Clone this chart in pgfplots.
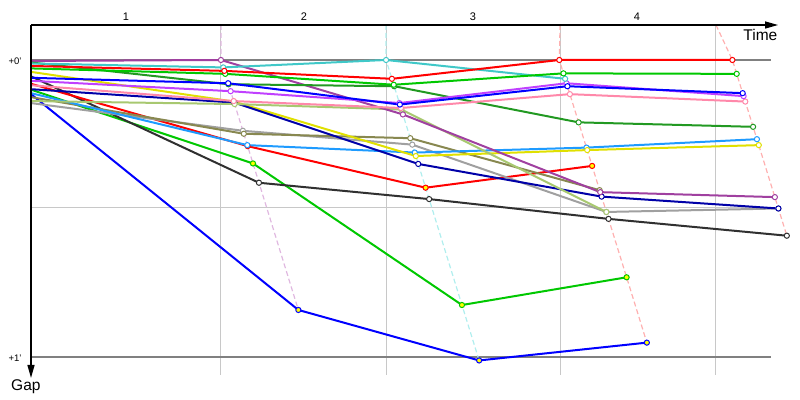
\documentclass[border=0pt]{standalone}
\usepackage{fontspec}
\setmainfont{Liberation Sans}
\usepackage{pgfplots}
\pgfplotsset{compat=1.18}
\usetikzlibrary{arrows.meta}

\definecolor{cPurple}{HTML}{A040A0}
\definecolor{cCyan}{HTML}{40C8C8}
\definecolor{cRed}{HTML}{FF0000}
\definecolor{cGreen}{HTML}{00C800}
\definecolor{cDkGreen}{HTML}{229922}
\definecolor{cBlue}{HTML}{0000FF}
\definecolor{cViolet}{HTML}{C040FF}
\definecolor{cPink}{HTML}{FF88AA}
\definecolor{cNavy}{HTML}{0000A8}
\definecolor{cLtOlive}{HTML}{A8C870}
\definecolor{cYellow}{HTML}{E0E000}
\definecolor{cOlive}{HTML}{888850}
\definecolor{cGrey}{HTML}{A0A0A0}
\definecolor{cSky}{HTML}{1E9BFF}
\definecolor{cBlack}{HTML}{303030}
\definecolor{cMarkYellow}{HTML}{FFFF00}
\definecolor{cRef}{HTML}{808080}
\definecolor{cGrid}{HTML}{C8C8C8}
\definecolor{cLap1}{HTML}{E0B8E0}
\definecolor{cLap2}{HTML}{B0EEEE}
\definecolor{cLap3}{HTML}{FFB0B0}

\pgfplotsset{
  drv/.style={line width=2pt, mark=*, mark size=2.6pt, mark indices={2,3,4,5},
    mark options={fill=white, line width=1pt, solid}},
  drvy/.style={line width=2pt, mark=*, mark size=2.6pt, mark indices={2,3,4,5},
    mark options={fill=cMarkYellow, line width=1pt, solid}},
}

\begin{document}
\begin{tikzpicture}
\begin{axis}[
  scale only axis, width=800pt, height=400pt,
  xmin=-20.22, xmax=501.6, ymin=-12.12, ymax=68.69,
  y dir=reverse, hide axis, clip=false,
]
% full canvas for the bounding box
\path (rel axis cs:0,0) rectangle (rel axis cs:1,1);
% reference and grid lines
\draw[cGrid, line width=1pt] (axis cs:123.9,-7.07) -- (axis cs:123.9,63.6);
\draw[cGrid, line width=1pt] (axis cs:231.6,-7.07) -- (axis cs:231.6,63.6);
\draw[cGrid, line width=1pt] (axis cs:345.1,-7.07) -- (axis cs:345.1,63.6);
\draw[cGrid, line width=1pt] (axis cs:446.8,-7.07) -- (axis cs:446.8,63.6);
\draw[cGrid, line width=1pt] (axis cs:0,29.9) -- (axis cs:482.7,29.9);
\draw[cRef, line width=1.3pt] (axis cs:0,0) -- (axis cs:482.7,0);
\draw[cRef, line width=1.3pt] (axis cs:0,60) -- (axis cs:482.7,60);

% lap lines
\addplot[cLap1, line width=1.2pt, dash pattern=on 5pt off 3pt, no markers] coordinates {(123.9,-7.07) (123.9,0) (174.4,50.5)};
\addplot[cLap2, line width=1.2pt, dash pattern=on 5pt off 3pt, no markers] coordinates {(231.6,-7.07) (231.6,0) (292.3,60.7)};
\addplot[cLap3, line width=1.2pt, dash pattern=on 5pt off 3pt, no markers] coordinates {(345.1,-7.07) (344.6,0) (401.7,57.1)};
\addplot[cLap3, line width=1.2pt, dash pattern=on 5pt off 3pt, no markers] coordinates {(446.8,-7.07) (457.5,0) (493.0,35.5)};

% drivers: (time s, gap s)
\addplot[cBlue, drvy] coordinates {(0,6.9) (174.4,50.5) (292.3,60.7) (401.7,57.1)};
\addplot[cGreen, drvy] coordinates {(0,6.0) (144.8,20.9) (281.1,49.5) (388.5,43.9)};
\addplot[cBlack, drv] coordinates {(0,3.3) (148.7,24.8) (259.7,28.1) (376.7,32.1) (493.0,35.5)};
\addplot[cRed, drvy] coordinates {(0,4.8) (141.3,17.4) (257.4,25.8) (366.0,21.4)};
\addplot[cGrey, drv] coordinates {(0,8.7) (138.2,14.3) (248.7,17.1) (375.3,30.7) (487.5,30.0)};
\addplot[cOlive, drv] coordinates {(0,7.5) (138.8,14.9) (247.4,15.8) (370.9,26.3)};
\addplot[cSky, drv] coordinates {(0,6.7) (141.1,17.2) (250.3,18.7) (362.3,17.7) (473.5,16.0)};
\addplot[cYellow, drv] coordinates {(0,2.4) (132.3,8.4) (251.0,19.4) (362.8,18.2) (474.7,17.2)};
\addplot[cNavy, drv] coordinates {(0,5.9) (132.5,8.6) (252.6,21.0) (372.2,27.6) (487.5,30.0)};
\addplot[cLtOlive, drv] coordinates {(0,8.3) (132.8,8.9) (241.6,10.0) (375.3,30.7)};
\addplot[cPurple, drv] coordinates {(0,0.2) (123.9,0) (242.6,11.0) (371.3,26.7) (485.2,27.7)};
\addplot[cDkGreen, drv] coordinates {(0,0.5) (128.8,4.9) (236.9,5.3) (357.2,12.6) (471.0,13.5)};
\addplot[cPink, drv] coordinates {(0,5.1) (132.2,8.3) (241.3,9.7) (351.5,6.9) (465.9,8.4)};
\addplot[cViolet, drv] coordinates {(0,4.2) (130.2,6.3) (240.3,8.7) (349.3,4.7) (464.8,7.3)};
\addplot[cBlue, drv] coordinates {(0,3.6) (128.6,4.7) (240.6,9.0) (349.9,5.3) (464.2,6.7)};
\addplot[cCyan, drv] coordinates {(0,0.7) (125.4,1.5) (231.6,0) (348.4,3.8)};
\addplot[cGreen, drv] coordinates {(0,1.7) (126.7,2.8) (236.6,5.0) (347.3,2.7) (460.3,2.8)};
\addplot[cRed, drv] coordinates {(0,1.2) (126.1,2.2) (235.4,3.8) (344.6,0) (457.5,0)};

% axes with arrows
\draw[black, line width=1.3pt, -{Triangle[length=13pt,width=7pt]}] (axis cs:0,-7.07) -- (axis cs:487.3,-7.07);
\draw[black, line width=1.3pt, -{Triangle[length=13pt,width=7pt]}] (axis cs:0,-7.07) -- (axis cs:0,64.24);

% labels
\node[font=\fontsize{9.5}{10}\selectfont] at (axis cs:-10.4,0.2) {+0'};
\node[font=\fontsize{9.5}{10}\selectfont] at (axis cs:-10.4,60.2) {+1'};
\node[font=\fontsize{11}{12}\selectfont] at (axis cs:62.0,-8.69) {1};
\node[font=\fontsize{11}{12}\selectfont] at (axis cs:178.1,-8.69) {2};
\node[font=\fontsize{11}{12}\selectfont] at (axis cs:288.3,-8.69) {3};
\node[font=\fontsize{11}{12}\selectfont] at (axis cs:395.3,-8.69) {4};
\node[anchor=base west, inner sep=0pt, font=\fontsize{15.5}{17}\selectfont] at (axis cs:464.6,-3.9) {Time};
\node[anchor=base west, inner sep=0pt, font=\fontsize{15.5}{17}\selectfont] at (axis cs:-13.05,66.87) {Gap};
\end{axis}
\end{tikzpicture}
\end{document}
